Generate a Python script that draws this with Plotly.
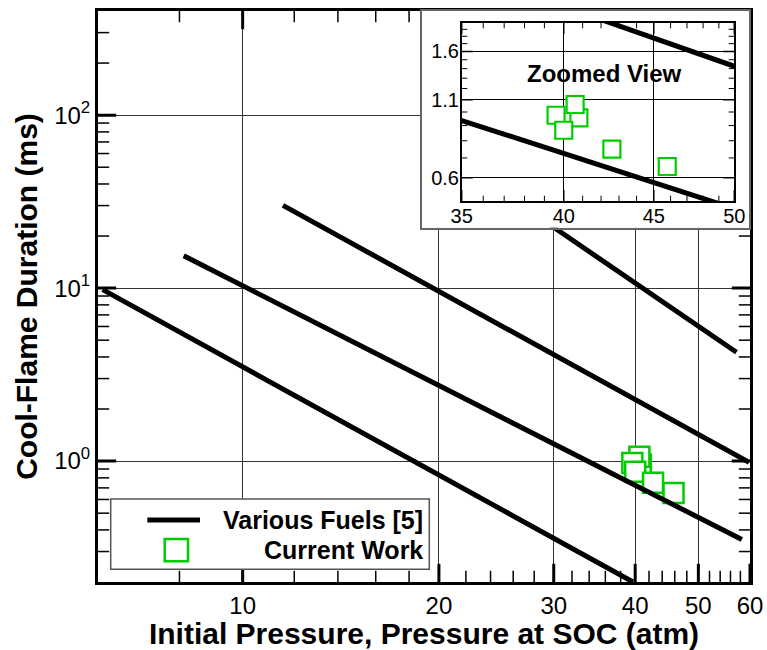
import math
import plotly.graph_objects as go

# ---------------- data ----------------
# "Various Fuels [5]" correlation lines (end points of straight log-log lines)
line1_p = [6.1, 39.7]
line1_t = [9.8, 0.2]
line2_p = [8.12, 58.3]
line2_t = [15.4, 0.352]
line3_p = [11.53, 59.8]
line3_t = [30.1, 0.983]
line4_p = [29.0, 57.2]
line4_t = [24.5, 4.26]

# "Current Work" measurements
work_p = [40.8, 40.6, 39.6, 40.0, 42.6, 45.8]
work_t = [0.955, 1.06, 0.975, 0.868, 0.75, 0.655]

# axis ranges
x_range = [6, 60]
y_range = [0.2, 400]
ix_range = [35, 50]
iy_range = [0.5, 2.0]

# tick values / labels
x_major = [10, 20, 30, 40, 50, 60]
x_major_text = ["10", "20", "30", "40", "50", "60"]
x_minor = [8, 12, 14, 16, 18, 22, 24, 26, 28, 32, 34, 36, 38,
           42, 44, 46, 48, 52, 54, 56, 58]
y_major = [1, 10, 100]
y_major_text = ["10<sup>0</sup>", "10<sup>1</sup>", "10<sup>2</sup>"]
y_minor = [0.3, 0.4, 0.5, 0.6, 0.7, 0.8, 0.9,
           2, 3, 4, 5, 6, 7, 8, 9,
           20, 30, 40, 50, 60, 70, 80, 90, 200, 300]

ix_major = [35, 40, 45, 50]
ix_major_text = ["35", "40", "45", "50"]
ix_minor = [36, 37, 38, 39, 41, 42, 43, 44, 46, 47, 48, 49]
iy_major = [0.6, 1.1, 1.6]
iy_major_text = ["0.6", "1.1", "1.6"]
iy_minor = [0.7, 0.8, 0.9, 1.0, 1.2, 1.3, 1.4, 1.5, 1.7, 1.8, 1.9]

lines = [(line1_p, line1_t), (line2_p, line2_t), (line3_p, line3_t), (line4_p, line4_t)]

# ---------------- layout helpers ----------------
W, H = 767, 650
L, R, T, B = 98, 17, 11, 68
PW, PH = W - L - R, H - T - B
FONT = "Liberation Sans, Arial, sans-serif"
GREEN = "#00CC00"


def fx(x):
    return (x - L) / PW


def fy(y):
    return (H - B - y) / PH


fig = go.Figure()


# inside tick marks on all four sides: line markers centred on the frame edges,
# half of each clipped away by the plot area (placed via the axes' own scales)
def add_ticks(xa, ya, xr, yr, xvals, yvals, length, width):
    common = dict(mode="markers", xaxis=xa, yaxis=ya, showlegend=False,
                  hoverinfo="skip", cliponaxis=True)
    for edge in yr:
        fig.add_trace(go.Scatter(
            x=xvals, y=[edge] * len(xvals),
            marker=dict(symbol="line-ns", size=2 * length,
                        line=dict(color="black", width=width)), **common))
    for edge in xr:
        fig.add_trace(go.Scatter(
            x=[edge] * len(yvals), y=yvals,
            marker=dict(symbol="line-ew", size=2 * length,
                        line=dict(color="black", width=width)), **common))


# ---- main plot
add_ticks("x", "y", x_range, y_range, x_major, y_major, 13, 3)
add_ticks("x", "y", x_range, y_range, x_minor, y_minor, 8, 1.5)
fig.add_trace(go.Scatter(
    x=work_p, y=work_t, mode="markers", xaxis="x", yaxis="y",
    marker=dict(symbol="square", size=20, color="white",
                line=dict(color=GREEN, width=2.5)),
    showlegend=False, hoverinfo="skip"))
for px_, ty_ in lines:
    fig.add_trace(go.Scatter(
        x=px_, y=ty_, mode="lines", xaxis="x", yaxis="y",
        line=dict(color="black", width=5), showlegend=False, hoverinfo="skip"))

# empty trace so that the inset frame subplot (white box) exists
fig.add_trace(go.Scatter(x=[None], y=[None], mode="markers", xaxis="x2", yaxis="y2",
                         showlegend=False, hoverinfo="skip"))

# ---- inset
fig.add_trace(go.Scatter(
    x=work_p, y=work_t, mode="markers", xaxis="x3", yaxis="y3",
    marker=dict(symbol="square", size=17, color="white",
                line=dict(color=GREEN, width=2.2)),
    showlegend=False, hoverinfo="skip"))
for px_, ty_ in lines:
    fig.add_trace(go.Scatter(
        x=px_, y=ty_, mode="lines", xaxis="x3", yaxis="y3",
        line=dict(color="black", width=5), showlegend=False, hoverinfo="skip"))
add_ticks("x3", "y3", ix_range, iy_range, ix_major, iy_major, 8, 1.5)
add_ticks("x3", "y3", ix_range, iy_range, ix_minor, iy_minor, 4, 1)


def axis(rng, vals, text, lw, grid, size, **kw):
    d = dict(
        type="log", range=[math.log10(rng[0]), math.log10(rng[1])],
        showline=True, linecolor="black", linewidth=lw,
        mirror=True, ticks="", showgrid=True, gridcolor=grid, gridwidth=1,
        zeroline=False, tickfont=dict(family=FONT, size=size, color="black"),
        tickmode="array", tickvals=vals, ticktext=text, fixedrange=True,
    )
    d.update(kw)
    return d


fig.update_layout(
    width=W, height=H,
    margin=dict(l=L, r=R, t=T, b=B, autoexpand=False),
    paper_bgcolor="white", plot_bgcolor="white",
    font=dict(family=FONT, color="black"),
    showlegend=False,
    xaxis=axis(x_range, x_major, x_major_text, 3, "#333333", 24, domain=[0, 1], anchor="y",
               title=dict(text="<b>Initial Pressure, Pressure at SOC (atm)</b>",
                          font=dict(family=FONT, size=30, color="black"), standoff=9)),
    yaxis=axis(y_range, y_major, y_major_text, 3, "#333333", 24, domain=[0, 1], anchor="x",
               title=dict(text="<b>Cool-Flame Duration (ms)</b>",
                          font=dict(family=FONT, size=30, color="black"), standoff=8)),
    # inset frame (white box)
    xaxis2=dict(domain=[fx(421.7), fx(749.0)], anchor="y2", range=[0, 1],
                showline=True, mirror=True, linecolor="#666666", linewidth=2,
                showgrid=False, zeroline=False, showticklabels=False, ticks="",
                fixedrange=True),
    yaxis2=dict(domain=[fy(227.7), 1.0], anchor="x2", range=[0, 1],
                showline=True, mirror=True, linecolor="#666666", linewidth=2,
                showgrid=False, zeroline=False, showticklabels=False, ticks="",
                fixedrange=True),
    # inset plot
    xaxis3=axis(ix_range, ix_major, ix_major_text, 1.5, "black", 20,
                domain=[fx(461.7), fx(734.3)], anchor="y3", ticklabelstandoff=-4),
    yaxis3=axis(iy_range, iy_major, iy_major_text, 1.5, "black", 20,
                domain=[fy(201.3), fy(22.7)], anchor="x3", ticklabelstandoff=-3),
)

# "Zoomed View" label
fig.add_annotation(text="<b>Zoomed View</b>", xref="paper", yref="paper",
                   x=fx(604), y=fy(73), xanchor="center", yanchor="middle",
                   showarrow=False, font=dict(family=FONT, size=24, color="black"))

# legend box (drawn manually to match the right-aligned layout)
fig.add_shape(type="rect", xref="paper", yref="paper",
              x0=fx(110.7), x1=fx(429.3), y0=fy(569.3), y1=fy(499),
              line=dict(color="#555555", width=1.5), fillcolor="white", layer="above")
fig.add_shape(type="line", xref="paper", yref="paper",
              x0=fx(147.3), x1=fx(200), y0=fy(520), y1=fy(520),
              line=dict(color="black", width=5), layer="above")
fig.add_shape(type="rect", xref="paper", yref="paper",
              x0=fx(164.7), x1=fx(188), y0=fy(561.3), y1=fy(539),
              line=dict(color=GREEN, width=2.5), fillcolor="white", layer="above")
fig.add_annotation(text="<b>Various Fuels [5]</b>", xref="paper", yref="paper",
                   x=fx(425), y=fy(520), xanchor="right", yanchor="middle",
                   showarrow=False, font=dict(family=FONT, size=25, color="black"))
fig.add_annotation(text="<b>Current Work</b>", xref="paper", yref="paper",
                   x=fx(425), y=fy(550), xanchor="right", yanchor="middle",
                   showarrow=False, font=dict(family=FONT, size=25, color="black"))

fig.write_html("out.html")
